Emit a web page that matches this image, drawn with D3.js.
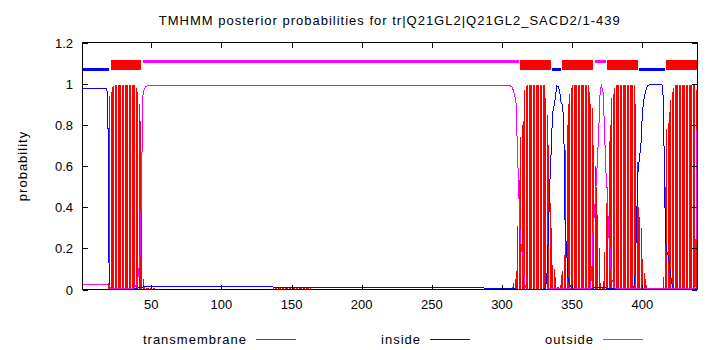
<!DOCTYPE html>
<html>
<head>
<meta charset="utf-8">
<script src="https://cdn.jsdelivr.net/npm/d3@7"></script>
<style>
    body { margin: 0; background: #fff; }
    svg text { font-family: 'Liberation Sans', Arial, sans-serif; font-size: 13px; fill: #000; }
</style>
</head>
<body>
<div id="chart"></div>
<script>
// posterior runs: [from residue, to residue, probability]
const tmRuns = [
    [1, 18, 0.004], [19, 19, 0.03], [20, 20, 0.94], [21, 21, 0.96], [22, 22, 0.985], [23, 23, 0.99],
    [24, 38, 0.995], [39, 39, 0.98], [40, 40, 0.96], [41, 41, 0.9], [42, 42, 0.82], [43, 43, 0.5],
    [44, 44, 0.05], [45, 45, 0.012], [46, 52, 0.005], [137, 163, 0.005], [280, 306, 0.004],
    [307, 307, 0.01], [308, 308, 0.03], [309, 309, 0.05], [310, 310, 0.09], [311, 311, 0.31],
    [312, 312, 0.53], [313, 313, 0.74], [314, 314, 0.8], [315, 315, 0.82], [316, 316, 0.97],
    [317, 317, 0.99], [318, 330, 0.995], [331, 331, 0.93], [332, 332, 0.85], [333, 333, 0.7],
    [334, 334, 0.42], [335, 335, 0.3], [336, 336, 0.12], [337, 337, 0.1], [338, 338, 0.06],
    [339, 339, 0.01], [340, 340, 0.01], [341, 341, 0.02], [342, 342, 0.07], [343, 343, 0.09],
    [344, 344, 0.17], [345, 345, 0.68], [346, 346, 0.8], [347, 347, 0.9], [348, 348, 0.95],
    [349, 349, 0.98], [350, 361, 0.995], [362, 362, 0.96], [363, 363, 0.9], [364, 364, 0.88],
    [365, 365, 0.7], [366, 366, 0.6], [367, 367, 0.5], [368, 368, 0.36], [369, 369, 0.2],
    [370, 370, 0.03], [371, 371, 0.01], [372, 372, 0.04], [373, 373, 0.18], [374, 374, 0.42],
    [375, 375, 0.5], [376, 376, 0.72], [377, 377, 0.8], [378, 378, 0.93], [379, 379, 0.95],
    [380, 380, 0.98], [381, 394, 0.995], [395, 395, 0.9], [396, 396, 0.62], [397, 397, 0.4],
    [398, 398, 0.35], [399, 399, 0.3], [400, 400, 0.15], [401, 401, 0.08], [402, 402, 0.05],
    [403, 403, 0.02], [404, 414, 0.003], [415, 415, 0.06], [416, 416, 0.5], [417, 417, 0.78],
    [418, 418, 0.81], [419, 419, 0.86], [420, 420, 0.92], [421, 421, 0.96], [422, 422, 0.98],
    [423, 437, 0.995], [438, 438, 0.97], [439, 439, 0.22]
];

const insideRuns = [
    [1, 18, 0.977], [19, 19, 0.948], [20, 20, 0.03], [21, 40, 0.004], [41, 43, 0.008], [44, 44, 0.01],
    [45, 136, 0.017], [137, 286, 0.011], [287, 306, 0.007], [307, 309, 0.005], [310, 330, 0.002],
    [331, 331, 0.01], [332, 332, 0.06], [333, 333, 0.25], [334, 334, 0.5], [335, 335, 0.66],
    [336, 336, 0.85], [337, 337, 0.89], [338, 338, 0.93], [339, 339, 0.99], [340, 340, 0.985],
    [341, 341, 0.97], [342, 342, 0.91], [343, 343, 0.9], [344, 344, 0.82], [345, 345, 0.3],
    [346, 346, 0.2], [347, 347, 0.06], [348, 348, 0.03], [349, 349, 0.015], [350, 365, 0.003],
    [366, 374, 0.01], [375, 393, 0.004], [394, 394, 0.01], [395, 395, 0.08], [396, 396, 0.35],
    [397, 397, 0.58], [398, 398, 0.64], [399, 399, 0.7], [400, 400, 0.85], [401, 401, 0.92],
    [402, 402, 0.95], [403, 403, 0.98], [404, 404, 0.99], [405, 414, 0.995], [415, 415, 0.93],
    [416, 416, 0.45], [417, 417, 0.19], [418, 418, 0.18], [419, 419, 0.14], [420, 420, 0.08],
    [421, 421, 0.03], [422, 422, 0.01], [423, 439, 0.003]
];

const outsideRuns = [
    [1, 19, 0.022], [20, 20, 0.02], [21, 37, 0.004], [38, 38, 0.01], [39, 39, 0.02], [40, 40, 0.04],
    [41, 41, 0.08], [42, 42, 0.16], [43, 43, 0.47], [44, 44, 0.94], [45, 45, 0.975], [46, 46, 0.985],
    [47, 306, 0.989], [307, 307, 0.985], [308, 308, 0.97], [309, 309, 0.945], [310, 310, 0.905],
    [311, 311, 0.68], [312, 312, 0.47], [313, 313, 0.26], [314, 314, 0.19], [315, 315, 0.17],
    [316, 316, 0.03], [317, 317, 0.01], [318, 332, 0.002], [333, 363, 0.006], [364, 364, 0.08],
    [365, 365, 0.3], [366, 366, 0.38], [367, 367, 0.5], [368, 368, 0.62], [369, 369, 0.78],
    [370, 370, 0.97], [371, 371, 0.99], [372, 372, 0.96], [373, 373, 0.8], [374, 374, 0.58],
    [375, 375, 0.48], [376, 376, 0.27], [377, 377, 0.2], [378, 378, 0.05], [379, 379, 0.04],
    [380, 380, 0.01], [381, 413, 0.006], [414, 437, 0.004], [438, 438, 0.02], [439, 439, 0.775]
];

// predicted topology shown above the curves
const segTypes = ['inside', 'tm', 'outside', 'tm', 'inside', 'tm', 'outside', 'tm', 'inside', 'tm'];
const segStarts = [1, 21, 44, 313, 336, 343, 366, 375, 398, 417];
const segEnds = [20, 43, 312, 335, 342, 365, 374, 397, 416, 439];

const xTicks = [50, 100, 150, 200, 250, 300, 350, 400];
const yTicks = [0, 0.2, 0.4, 0.6, 0.8, 1, 1.2];
const legendNames = ['transmembrane', 'inside', 'outside'];

const width = 710;
const height = 350;
const colors = { tm: '#ff0000', inside: '#0000ff', outside: '#ff00ff' };
const barLevel = { inside: 1.07, tm: 1.09, outside: 1.11 };
const barWidth = { inside: 3, tm: 10, outside: 3 };

function expand(runs) {
    let out = [];
    runs.forEach(r => {
        for (let i = r[0]; i <= r[1]; i++) out.push({ pos: i, p: r[2] });
    });
    return out;
}

let tm = expand(tmRuns);
let inside = expand(insideRuns);
let outside = expand(outsideRuns);

let margin = { top: 42.5, right: 13, bottom: 60.5, left: 82.5 };

let x = d3.scaleLinear()
    .domain([1, 439])
    .range([margin.left, width - margin.right]);

let y = d3.scaleLinear()
    .domain([0, 1.2])
    .range([height - margin.bottom, margin.top]);

const svg = d3.select('#chart')
    .append('svg')
    .attr('width', width)
    .attr('height', height)
    .attr('shape-rendering', 'crispEdges');

// impulses for the transmembrane probability
svg.append('g')
    .selectAll('line')
    .data(tm.filter(d => d.p > 0))
    .enter()
    .append('line')
    .attr('x1', d => Math.round(x(d.pos)) + 0.5)
    .attr('x2', d => Math.round(x(d.pos)) + 0.5)
    .attr('y1', y(0))
    .attr('y2', d => y(d.p))
    .attr('stroke', colors.tm)
    .attr('stroke-width', 1);

let line = d3.line()
    .x(d => x(d.pos))
    .y(d => y(d.p));

svg.append('path')
    .datum(inside)
    .attr('fill', 'none')
    .attr('stroke', colors.inside)
    .attr('stroke-width', 1)
    .attr('d', line);

svg.append('path')
    .datum(outside)
    .attr('fill', 'none')
    .attr('stroke', colors.outside)
    .attr('stroke-width', 1)
    .attr('d', line);

// topology bars
svg.append('g')
    .selectAll('rect')
    .data(segTypes.map((t, i) => ({ type: t, start: segStarts[i], end: segEnds[i] })))
    .enter()
    .append('rect')
    .attr('x', d => x(d.start))
    .attr('width', d => x(d.end) - x(d.start))
    .attr('y', d => y(barLevel[d.type]) - barWidth[d.type] / 2)
    .attr('height', d => barWidth[d.type])
    .attr('fill', d => colors[d.type]);

// frame and ticks (inward, mirrored)
let x0 = x.range()[0], x1 = x.range()[1], y0 = y.range()[0], y1 = y.range()[1];
svg.append('rect')
    .attr('x', x0).attr('y', y1)
    .attr('width', x1 - x0).attr('height', y0 - y1)
    .attr('fill', 'none').attr('stroke', '#000');

let tickLen = 5;
let ticks = svg.append('g').attr('stroke', '#000');
xTicks.forEach(t => {
    let px = Math.round(x(t)) + 0.5;
    ticks.append('line').attr('x1', px).attr('x2', px).attr('y1', y0).attr('y2', y0 - tickLen);
    ticks.append('line').attr('x1', px).attr('x2', px).attr('y1', y1).attr('y2', y1 + tickLen);
});
yTicks.forEach(t => {
    let py = Math.round(y(t)) + 0.5;
    ticks.append('line').attr('x1', x0).attr('x2', x0 + tickLen).attr('y1', py).attr('y2', py);
    ticks.append('line').attr('x1', x1).attr('x2', x1 - tickLen).attr('y1', py).attr('y2', py);
});

svg.append('g')
    .selectAll('text')
    .data(xTicks)
    .enter()
    .append('text')
    .attr('x', d => x(d))
    .attr('y', 309)
    .attr('text-anchor', 'middle')
    .text(d => d);

svg.append('g')
    .selectAll('text')
    .data(yTicks)
    .enter()
    .append('text')
    .attr('x', 73)
    .attr('y', d => y(d) + 5)
    .attr('text-anchor', 'end')
    .text(d => d);

svg.append('text')
    .attr('x', (x0 + x1) / 2)
    .attr('y', 25)
    .attr('text-anchor', 'middle')
    .attr('letter-spacing', 1)
    .text('TMHMM posterior probabilities for tr|Q21GL2|Q21GL2_SACD2/1-439');

svg.append('text')
    .attr('transform', 'translate(27,166) rotate(-90)')
    .attr('text-anchor', 'middle')
    .attr('letter-spacing', 1)
    .text('probability');

// legend
let legendEnds = [247, 421, 594];
let legendKeys = ['tm', 'inside', 'outside'];
legendNames.forEach((name, i) => {
    svg.append('text')
        .attr('x', legendEnds[i])
        .attr('y', 344)
        .attr('text-anchor', 'end')
        .attr('letter-spacing', 1)
        .text(name);
    svg.append('line')
        .attr('x1', legendEnds[i] + 9)
        .attr('x2', legendEnds[i] + 49)
        .attr('y1', 339.5)
        .attr('y2', 339.5)
        .attr('stroke', colors[legendKeys[i]]);
});
</script>
</body>
</html>
